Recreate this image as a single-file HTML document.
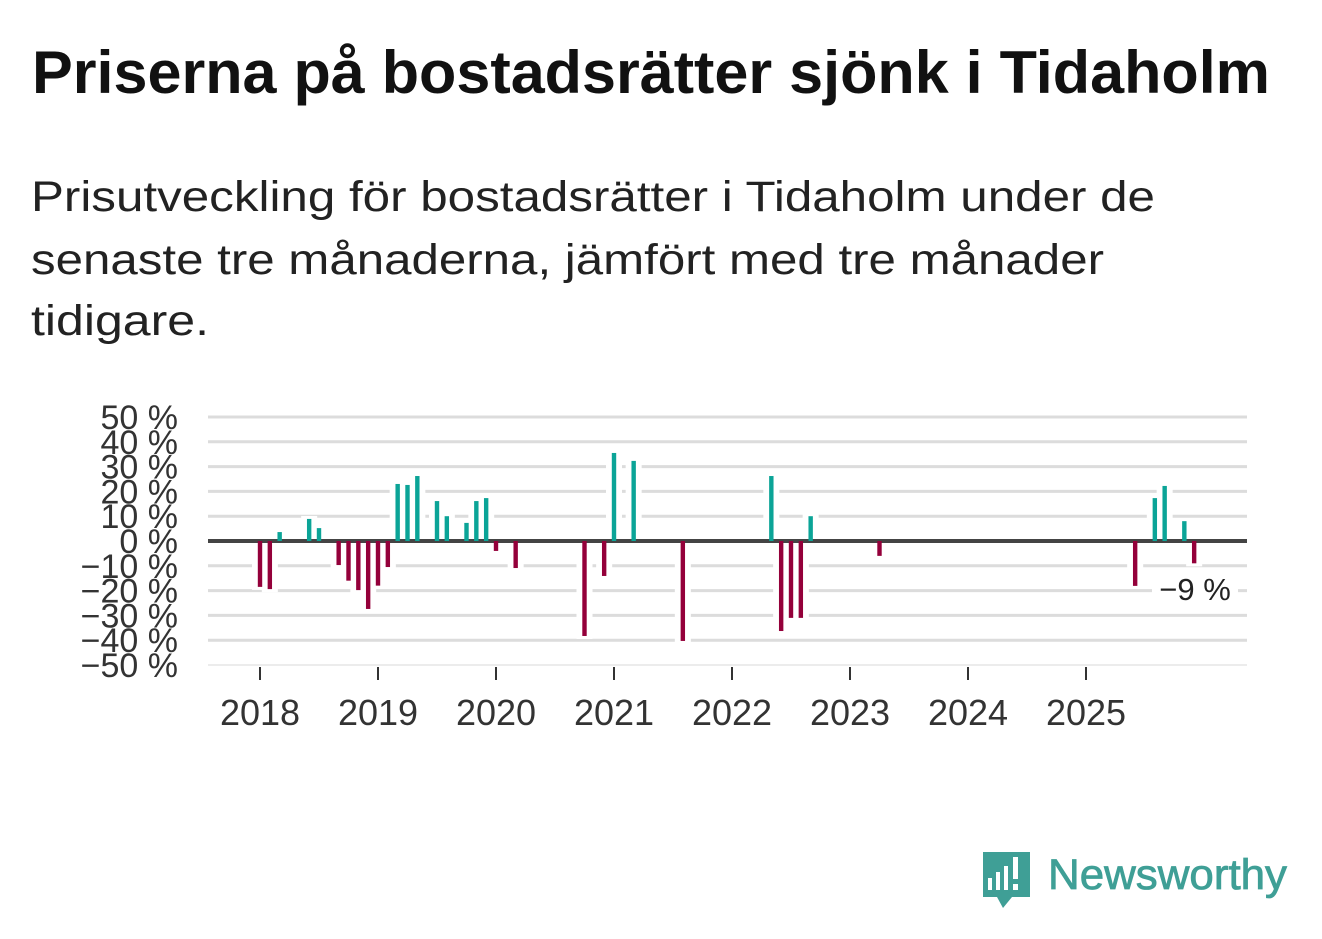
<!DOCTYPE html>
<html><head><meta charset="utf-8"><style>
html,body{margin:0;padding:0;background:#fff;}
svg{display:block;font-family:"Liberation Sans",sans-serif;}
</style></head><body>
<svg id="chart" width="1322" height="939" viewBox="0 0 1322 939">
<text x="32" y="93" font-size="60" font-weight="bold" fill="#111" textLength="1238" lengthAdjust="spacingAndGlyphs">Priserna på bostadsrätter sjönk i Tidaholm</text>
<g fill="#222" font-size="43">
<text x="31" y="211" textLength="1124" lengthAdjust="spacingAndGlyphs">Prisutveckling för bostadsrätter i Tidaholm under de</text>
<text x="31" y="274" textLength="1073" lengthAdjust="spacingAndGlyphs">senaste tre månaderna, jämfört med tre månader</text>
<text x="31" y="335" textLength="178" lengthAdjust="spacingAndGlyphs">tidigare.</text>
</g>
<g id="grid"></g><g id="halos"></g><g id="zero"></g><g id="bars"></g><g id="yaxis"></g><g id="xaxis"></g>
<g>
<rect x="1152" y="573" width="86" height="34" fill="#fff"/>
<text x="1195" y="600" font-size="31" fill="#222" text-anchor="middle" id="lastlabel">−9 %</text>
</g>
<g>
<path d="M983 852 H1030 V897 H1012 L1003 908 L997 897 H983 Z" fill="#3f9f96"/>
<rect x="988" y="878" width="4" height="12" fill="#fff"/><rect x="996" y="872" width="4" height="18" fill="#fff"/><rect x="1004" y="866" width="4" height="24" fill="#fff"/><rect x="1013" y="857" width="5" height="22" fill="#fff"/><rect x="1013" y="884" width="5" height="6" fill="#fff"/>
<text x="1048" y="889" font-size="43" fill="#3f9f96" stroke="#3f9f96" stroke-width="0.8" textLength="239" lengthAdjust="spacingAndGlyphs">Newsworthy</text>
</g>
</svg>
<script>
const ticks=[50,40,30,20,10,0,-10,-20,-30,-40,-50];
const years=[2018,2019,2020,2021,2022,2023,2024,2025];
// monthly values from Jan 2018 (index 0) to Dec 2025 (index 95)
const monthIndex=[0,1,2,5,6,8,9,10,11,12,13,14,15,16,18,19,21,22,23,24,26,33,35,36,38,43,52,53,54,55,56,63,89,91,92,94,95];
const values=[-18.5,-19.4,3.6,8.9,5.2,-9.7,-16,-19.8,-27.4,-18,-10.5,23,22.6,26.2,16.1,10,7.3,16.1,17.3,-4,-10.9,-38.3,-14.1,35.5,32.3,-40.3,26.2,-36.3,-31,-31,10,-6,-18.1,17.3,22.2,8,-9];
const NS="http://www.w3.org/2000/svg";
const y=v=>541-v*2.48;
const x=i=>260+i*118/12;
function mk(t,a,p){const e=document.createElementNS(NS,t);for(const k in a)e.setAttribute(k,a[k]);p.appendChild(e);return e;}
const grid=document.getElementById('grid'),yax=document.getElementById('yaxis'),xax=document.getElementById('xaxis');
ticks.forEach(t=>{
 if(t!==0){const l=mk('line',{x1:208,x2:1247,y1:y(t),y2:y(t),stroke:t===-50?'#e6e6e6':'#dcdcdc','stroke-width':t===-50?1.5:3},grid);
 
 }
 const tx=mk('text',{x:178,y:y(t)+12,'font-size':34,fill:'#333','text-anchor':'end'},yax);
 tx.textContent=(t<0?'−'+(-t):t)+' %';
 
 
});
const z=mk('line',{x1:208,x2:1247,y1:y(0),y2:y(0),stroke:'#444','stroke-width':4},document.getElementById('zero'));


years.forEach(yr=>{
 const px=x((yr-2018)*12);
 const tk=mk('line',{x1:px,x2:px,y1:667,y2:680,stroke:'#333','stroke-width':2},xax);
 
 
 const t=mk('text',{x:px,y:725,'font-size':36,fill:'#333','text-anchor':'middle'},xax);
 t.textContent=yr;
 
 
});
const halos=document.getElementById('halos'),bars=document.getElementById('bars');
values.forEach((v,k)=>{
 const px=x(monthIndex[k]);const top=Math.min(y(v),y(0)),h=Math.abs(y(v)-y(0));
 mk('rect',{x:px-8,y:top-3,width:16,height:h+6,fill:'#fff'},halos);
 const b=mk('rect',{x:px-2.2,y:top,width:4.4,height:h,fill:v>=0?'#0ba497':'#94003a'},bars);
 
 
});
</script>
</body></html>
